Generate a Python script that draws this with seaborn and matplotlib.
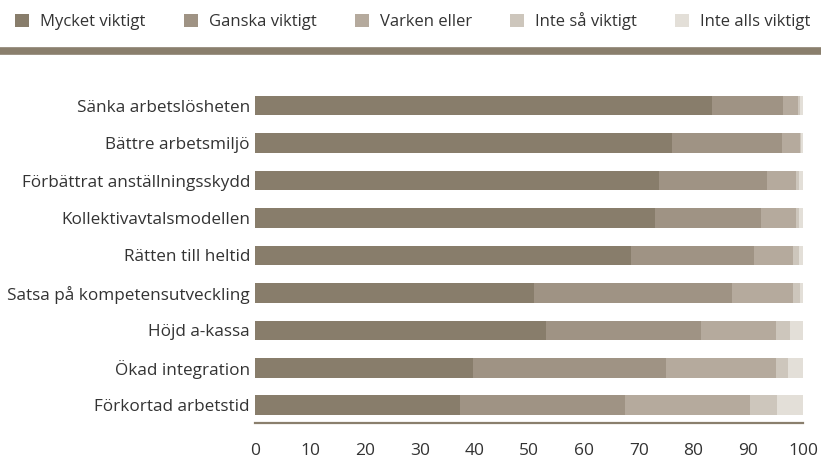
import pandas as pd
import numpy as np
import matplotlib.pyplot as plt
from matplotlib.patches import Patch
from matplotlib.lines import Line2D
import seaborn as sns

# ---- data (percent per answer) ----
categories = ['Sänka arbetslösheten', 'Bättre arbetsmiljö', 'Förbättrat anställningsskydd',
              'Kollektivavtalsmodellen', 'Rätten till heltid', 'Satsa på kompetensutveckling',
              'Höjd a-kassa', 'Ökad integration', 'Förkortad arbetstid']
mycket = [83.3, 76.0, 73.7, 73.0, 68.6, 50.9, 53.0, 39.8, 37.3]
ganska = [13.1, 20.2, 19.8, 19.3, 22.4, 36.2, 28.4, 35.2, 30.2]
varken = [2.6, 3.3, 5.3, 6.5, 7.2, 11.1, 13.7, 20.0, 22.9]
inte_sa = [0.4, 0.2, 0.5, 0.5, 1.0, 1.2, 2.6, 2.3, 4.9]
inte_alls = [0.6, 0.3, 0.7, 0.7, 0.8, 0.6, 2.3, 2.7, 4.7]
series_names = ['Mycket viktigt', 'Ganska viktigt', 'Varken eller', 'Inte så viktigt', 'Inte alls viktigt']
xticks = [0, 10, 20, 30, 40, 50, 60, 70, 80, 90, 100]

colors = ['#887d6b', '#9f9384', '#b5aa9d', '#cdc6bc', '#e3dfd8']
rule_color = '#8a7f6d'
text_color = '#333333'

sns.set_style('white')
plt.rcParams['font.family'] = ['Open Sans', 'DejaVu Sans']

df = pd.DataFrame({'kategori': categories, series_names[0]: mycket, series_names[1]: ganska,
                   series_names[2]: varken, series_names[3]: inte_sa, series_names[4]: inte_alls})
cum = df[series_names].cumsum(axis=1)

fig = plt.figure(figsize=(8.21, 4.59), dpi=100)
ax = fig.add_axes([0.3112, 0.0784, 0.6669, 0.7406])

# stacked bars: draw cumulative totals from the widest down
for name, col in reversed(list(zip(series_names, colors))):
    sns.barplot(x=cum[name], y=df['kategori'], color=col, width=0.53,
                saturation=1, linewidth=0, ax=ax, orient='h')

ax.set_xlim(0, 100)
ax.set_ylim(8.47, -0.6)
ax.set_xticks(xticks)
ax.set_xlabel('')
ax.set_ylabel('')
for s in ['top', 'right', 'left']:
    ax.spines[s].set_visible(False)
ax.spines['bottom'].set_color(rule_color)
ax.spines['bottom'].set_linewidth(1.6)
ax.tick_params(axis='x', direction='out', length=6.5, width=1.5, color=rule_color,
               labelsize=12.5, labelcolor=text_color, pad=8)
ax.tick_params(axis='y', length=0, labelsize=12.3, labelcolor=text_color, pad=4)

# legend across the top
handles = [Patch(facecolor=c, edgecolor='none', label=n) for n, c in zip(series_names, colors)]
fig.legend(handles=handles, loc='center left', bbox_to_anchor=(15 / 821, 1 - 21.5 / 459), ncol=5,
           frameon=False, handlelength=0.84, handleheight=0.84, handletextpad=0.66,
           columnspacing=2.3, fontsize=12, labelcolor=text_color, borderaxespad=0,
           borderpad=0.0)

# thick rule under the legend
fig.add_artist(Line2D([0, 1], [1 - 51 / 459, 1 - 51 / 459], transform=fig.transFigure,
                      color=rule_color, linewidth=5.5, solid_capstyle='butt'))

plt.savefig('out.png', dpi=100)
